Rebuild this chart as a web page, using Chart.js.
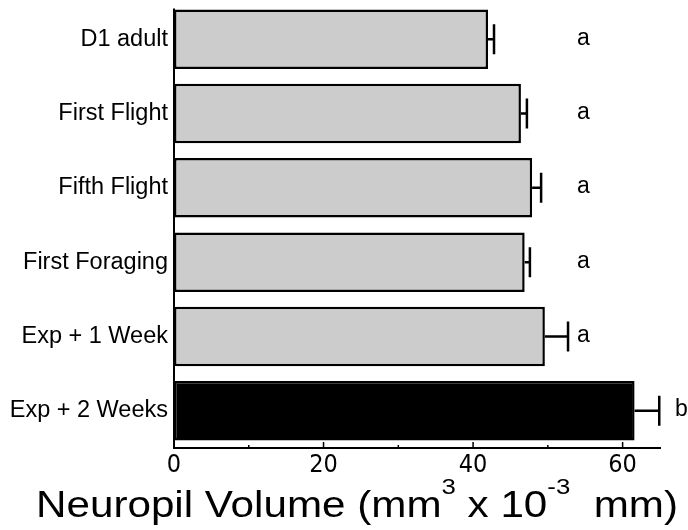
<!DOCTYPE html>
<html>
<head>
<meta charset="utf-8">
<script src="https://cdn.jsdelivr.net/npm/chart.js@4/dist/chart.umd.min.js"></script>
<style>
  html, body { margin: 0; padding: 0; background: #fff; }
  #wrap { width: 688px; height: 530px; }
</style>
</head>
<body>
<div id="wrap"><canvas id="c" width="688" height="530"></canvas></div>
<script>
const categories = ["D1 adult", "First Flight", "Fifth Flight", "First Foraging", "Exp + 1 Week", "Exp + 2 Weeks"];
const volumes = [42.0, 46.4, 47.9, 46.9, 49.6, 61.6];
const errors = [0.8, 0.8, 1.2, 0.7, 3.1, 3.3];
const groupLetters = ["a", "a", "a", "a", "a", "b"];
const barColors = ["#cccccc", "#cccccc", "#cccccc", "#cccccc", "#cccccc", "#000000"];
const majorTicks = [0, 20, 40, 60];
const minorTicks = [10, 30, 50];
const axisMax = 65;

const SANS = "'Liberation Sans', Arial, Helvetica, sans-serif";
const NARROW = "'Liberation Sans Narrow', 'Arial Narrow', 'DejaVu Sans Condensed', sans-serif";

const extrasPlugin = {
  id: 'extras',
  afterDatasetsDraw(chart) {
    const ctx = chart.ctx;
    const x = chart.scales.x, y = chart.scales.y;
    const area = chart.chartArea;
    const meta = chart.getDatasetMeta(0);
    ctx.save();
    // y axis line, starting at top of first bar
    const firstTop = meta.data[0].y - meta.data[0].height / 2 - 1;
    ctx.strokeStyle = '#000';
    ctx.lineWidth = 2;
    ctx.beginPath();
    ctx.moveTo(area.left, firstTop);
    ctx.lineTo(area.left, area.bottom + 1);
    ctx.stroke();
    // error bars
    ctx.lineWidth = 2.5;
    volumes.forEach((v, i) => {
      const yc = y.getPixelForValue(i);
      const x0 = x.getPixelForValue(v);
      const x1 = x.getPixelForValue(v + errors[i]);
      ctx.beginPath();
      ctx.moveTo(x0, yc); ctx.lineTo(x1, yc);
      ctx.moveTo(x1, yc - 15); ctx.lineTo(x1, yc + 15);
      ctx.stroke();
    });
    // letters
    ctx.fillStyle = '#000';
    ctx.font = '23px ' + SANS;
    ctx.textAlign = 'left';
    ctx.textBaseline = 'middle';
    groupLetters.forEach((l, i) => {
      const yc = y.getPixelForValue(i) - 1;
      const col = l === 'a' ? x.getPixelForValue(53.9) : x.getPixelForValue(67.0);
      ctx.fillText(l, col, yc);
    });
    // x axis ticks pointing inward (upward)
    ctx.lineWidth = 1.5;
    const base = area.bottom;
    majorTicks.forEach(t => {
      const px = x.getPixelForValue(t);
      ctx.beginPath(); ctx.moveTo(px, base); ctx.lineTo(px, base - 6); ctx.stroke();
    });
    minorTicks.forEach(t => {
      const px = x.getPixelForValue(t);
      ctx.beginPath(); ctx.moveTo(px, base); ctx.lineTo(px, base - 3); ctx.stroke();
    });
    // axis title with superscripts (horizontally stretched to the reference width)
    const pieces = [
      ["Neuropil Volume ", false], ["(mm", false], ["3", true], [" x 10", false], ["-3", true], ["  mm)", false]
    ];
    const bigFont = '36px ' + SANS, supFont = '22px ' + SANS;
    let total = 0;
    pieces.forEach(p => { ctx.font = p[1] ? supFont : bigFont; total += ctx.measureText(p[0]).width; });
    const left = 36, right = 678;
    const sx = (right - left) / total;
    ctx.translate(left, 0);
    ctx.scale(sx, 1);
    let cx = 0;
    ctx.textBaseline = 'alphabetic';
    ctx.textAlign = 'left';
    pieces.forEach(p => {
      ctx.font = p[1] ? supFont : bigFont;
      ctx.fillText(p[0], cx, p[1] ? 494 : 517);
      cx += ctx.measureText(p[0]).width;
    });
    ctx.restore();
  }
};

new Chart(document.getElementById('c'), {
  type: 'bar',
  data: {
    labels: categories,
    datasets: [{
      data: volumes,
      backgroundColor: barColors,
      borderColor: '#000',
      borderWidth: 2.5,
      borderSkipped: false,
      categoryPercentage: 1.0,
      barPercentage: 0.8
    }]
  },
  options: {
    indexAxis: 'y',
    responsive: false,
    animation: false,
    layout: { padding: { top: 2, right: 28, left: 0, bottom: 0 } },
    plugins: { legend: { display: false }, tooltip: { enabled: false }, title: { display: false } },
    scales: {
      x: {
        min: 0, max: axisMax,
        afterBuildTicks(scale) { scale.ticks = majorTicks.map(v => ({ value: v })); },
        grid: { display: false, drawTicks: false },
        border: { display: true, color: '#000', width: 2 },
        ticks: { color: '#000', font: { family: NARROW, size: 25 }, padding: 2, maxRotation: 0 },
        afterFit(scale) { scale.height = 82; scale.paddingLeft = 0; scale.paddingRight = 0; }
      },
      y: {
        grid: { display: false, drawTicks: false },
        border: { display: false },
        ticks: { color: '#000', font: { family: SANS, size: 23.5 }, padding: 6 },
        afterFit(scale) { scale.width = 174; scale.paddingTop = 0; scale.paddingBottom = 0; }
      }
    }
  },
  plugins: [extrasPlugin]
});
</script>
</body>
</html>
